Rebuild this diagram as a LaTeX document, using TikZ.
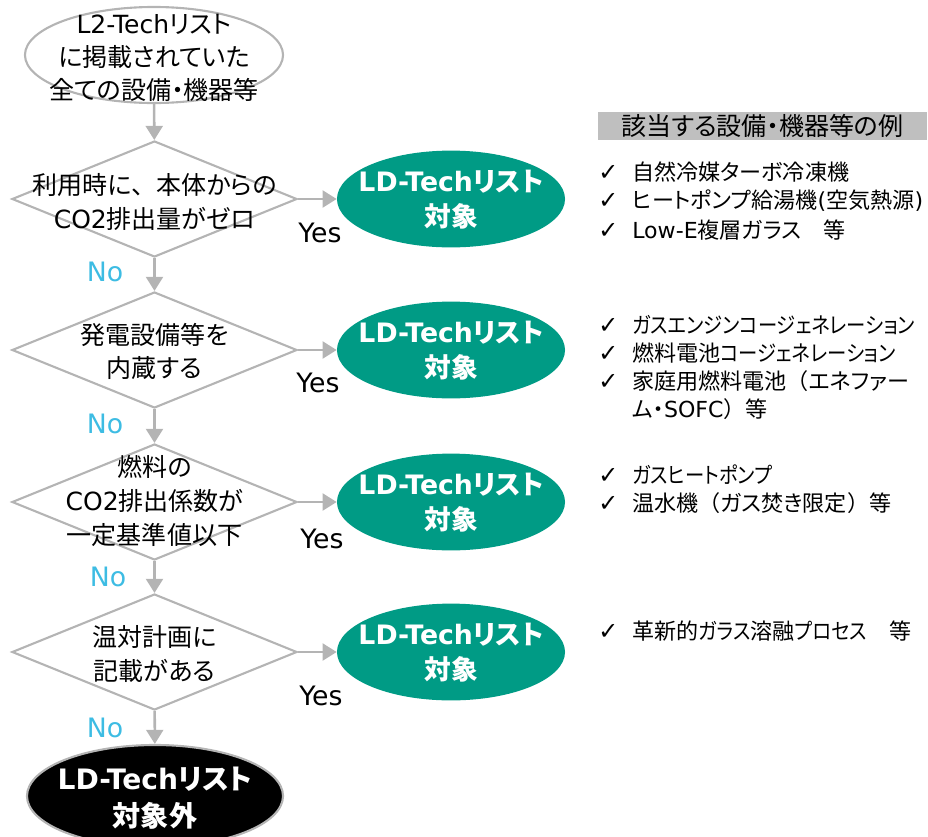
\documentclass[tikz,border=0pt]{standalone}
\usepackage{fontspec}
\setmainfont[RawFeature=+palt]{Noto Sans CJK JP}
\newfontfamily\fwfont{Noto Sans CJK JP}
\newfontfamily\chkfont{DejaVu Sans}
\newfontfamily\latfont{DejaVu Sans}
\usetikzlibrary{shapes.geometric,arrows.meta}
\definecolor{flowgray}{HTML}{B4B4B4}
\definecolor{ldgreen}{HTML}{009B85}
\definecolor{nocyan}{HTML}{3DBCE3}
\definecolor{bannergray}{HTML}{BFBFBF}
\tikzset{
  startbox/.style={ellipse, draw=flowgray, line width=1.5pt, minimum width=6.45cm, minimum height=2.4cm, inner sep=0pt},
  decision/.style={diamond, draw=flowgray, line width=1.5pt, minimum width=7.125cm, minimum height=2.9cm, inner sep=0pt},
  target/.style={ellipse, fill=ldgreen, minimum width=5.7cm, minimum height=2.42cm, inner sep=0pt},
  nontarget/.style={ellipse, fill=black, draw=flowgray, line width=1.5pt, minimum width=6.4cm, minimum height=2.55cm, inner sep=0pt},
  flowtext/.style={align=center, inner sep=0pt, font=\fontsize{17.8}{23.5}\selectfont},
  targettext/.style={align=center, inner sep=0pt, text=white, font=\bfseries\fontsize{19}{25}\selectfont},
  yeslabel/.style={inner sep=0pt, font=\latfont\fontsize{19}{21}\selectfont},
  nolabel/.style={inner sep=0pt, text=nocyan, font=\latfont\fontsize{19}{21}\selectfont},
  banner/.style={fill=bannergray, minimum width=8.225cm, minimum height=0.7cm, inner sep=0pt, font=\fontsize{17.8}{20}\selectfont},
  exitem/.style={anchor=west, inner sep=0pt, font=\fontsize{15.7}{19}\selectfont},
  flow/.style={draw=flowgray, line width=1.8pt, -{Triangle[length=10pt,width=12pt]}},
}
\newcommand{\lat}[1]{{\latfont #1}}
\newcommand{\fw}[1]{{\fwfont #1}}
\newcommand{\narrow}[1]{\scalebox{0.875}[1]{#1}}
\newcommand{\chk}{\makebox[0.85cm][l]{\chkfont\fontsize{17}{19}\selectfont ✓}}
\newcommand{\nochk}{\makebox[0.85cm][l]{}}
\begin{document}
\begin{tikzpicture}[x=0.025cm,y=-0.025cm]
\useasboundingbox (0,0) rectangle (928,836);
% start
\node[startbox] (s0) at (154,55) {};
\node[flowtext] (s0t) at (154,58) {\lat{L2-Tech}リスト\\に掲載されていた\\全ての設備・機器等};
% decisions
\node[decision] (d1) at (154.5,199) {};
\node[flowtext] (d1t) at (154.5,202) {利用時に\fw{、}本体からの\\\lat{CO2}排出量がゼロ};
\node[decision] (d2) at (154.5,350) {};
\node[flowtext] (d2t) at (154.5,351) {発電設備等を\\内蔵する};
\node[decision] (d3) at (154.5,502) {};
\node[flowtext, font=\fontsize{17.8}{24.5}\selectfont] (d3t) at (154.5,501) {燃料の\\\lat{CO2}排出係数が\\一定基準値以下};
\node[decision] (d4) at (154.5,652) {};
\node[flowtext] (d4t) at (154.5,654) {温対計画に\\記載がある};
% targets
\node[target] (g1) at (451,199) {};
\node[targettext] (g1t) at (451,200) {\lat{LD-Tech}リスト\\対象};
\node[target] (g2) at (451,350) {};
\node[targettext] (g2t) at (451,351) {\lat{LD-Tech}リスト\\対象};
\node[target] (g3) at (451,502) {};
\node[targettext] (g3t) at (451,503) {\lat{LD-Tech}リスト\\対象};
\node[target] (g4) at (451,652) {};
\node[targettext] (g4t) at (451,653) {\lat{LD-Tech}リスト\\対象};
% not a target
\node[nontarget] (e0) at (155,796) {};
\node[targettext, font=\bfseries\fontsize{20}{26.5}\selectfont] (e0t) at (155,798) {\lat{LD-Tech}リスト\\対象外};
% connectors
\draw[flow] (s0) -- (d1);
\draw[flow] (d1) -- (d2);
\draw[flow] (d2) -- (d3);
\draw[flow] (d3) -- (d4);
\draw[flow] (d4) -- (e0);
\draw[flow] (d1) -- (g1);
\draw[flow] (d2) -- (g2);
\draw[flow] (d3) -- (g3);
\draw[flow] (d4) -- (g4);
% labels
\node[yeslabel] (y1) at (320,233) {Yes};
\node[yeslabel] (y2) at (318,383) {Yes};
\node[yeslabel] (y3) at (322,539) {Yes};
\node[yeslabel] (y4) at (321,696) {Yes};
\node[nolabel] (n1) at (105,272) {No};
\node[nolabel] (n2) at (105,424) {No};
\node[nolabel] (n3) at (108,577) {No};
\node[nolabel] (n4) at (105,728) {No};
% examples
\node[banner] (exhead) at (762.5,126) {該当する設備・機器等の例};
\node[exitem] (ex11) at (598,172) {\chk 自然冷媒ターボ冷凍機};
\node[exitem] (ex12) at (598,201) {\chk ヒートポンプ給湯機\lat{(}空気熱源\lat{)}};
\node[exitem] (ex13) at (598,230) {\chk \lat{Low-E}複層ガラス　等};
\node[exitem] (ex21) at (598,325) {\chk \narrow{ガスエンジンコージェネレーション}};
\node[exitem] (ex22) at (598,353) {\chk 燃料電池\narrow{コージェネレーション}};
\node[exitem] (ex23) at (598,381) {\chk 家庭用燃料電池\fw{（}エネファー};
\node[exitem] (ex24) at (598,409) {\nochk ム・\lat{SOFC}\fw{）}等};
\node[exitem] (ex31) at (598,475) {\chk \narrow{ガスヒートポンプ}};
\node[exitem] (ex32) at (598,503) {\chk 温水機\fw{（}ガス焚き限定\fw{）}等};
\node[exitem] (ex41) at (598,631) {\chk 革新的\narrow{ガラス}溶融\narrow{プロセス}　等};
\end{tikzpicture}
\end{document}
